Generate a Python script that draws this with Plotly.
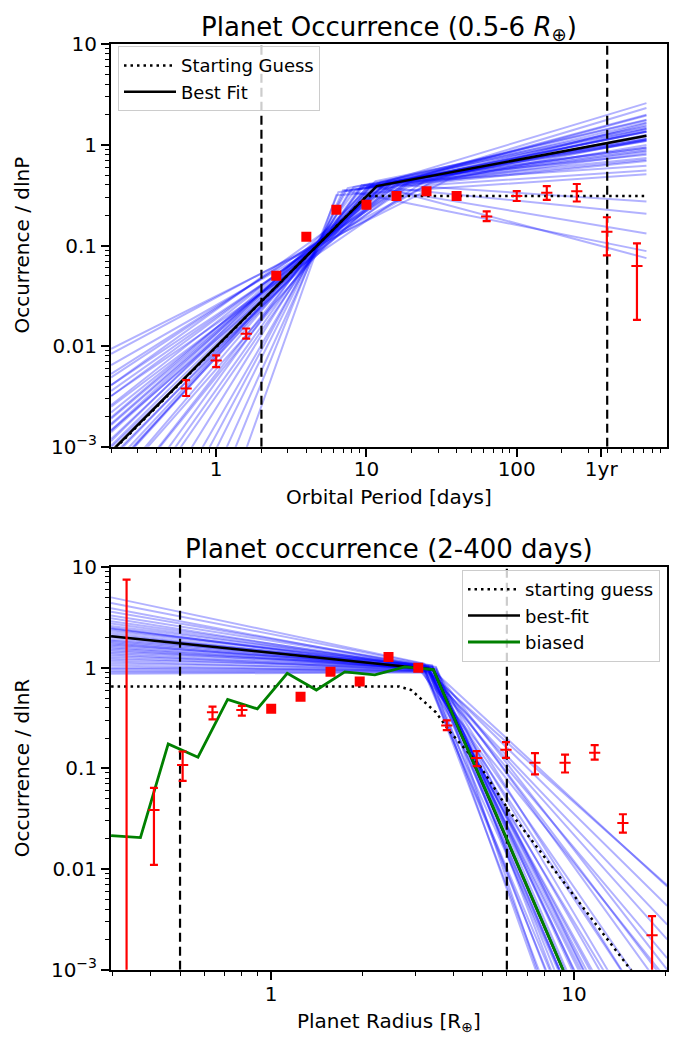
import plotly.graph_objects as go

# ---------------- TOP PANEL DATA (occurrence vs orbital period) ----------------
period_bins = [0.631, 1.0, 1.585, 2.51, 3.98, 6.31, 10.0, 15.85, 25.1, 39.8,
               63.1, 100.0, 158.5, 251.0, 398.0, 631.0]
occ_period = [0.0038, 0.0072, 0.0133, 0.050, 0.122, 0.227, 0.254, 0.310, 0.347, 0.310,
              0.194, 0.310, 0.335, 0.347, 0.137, 0.0625]
occ_period_hi = [0.0046, 0.0081, 0.0150, 0.0515, 0.125, 0.233, 0.261, 0.318, 0.356, 0.318,
                 0.219, 0.347, 0.389, 0.409, 0.191, 0.105]
occ_period_lo = [0.0032, 0.0062, 0.0119, 0.0485, 0.119, 0.221, 0.247, 0.302, 0.338, 0.302,
                 0.175, 0.277, 0.284, 0.274, 0.080, 0.0183]

guess_period = [0.2, 10.0, 730.0]
guess_occ_p = [0.00088, 0.31, 0.31]
fit_period = [0.2, 11.7, 730.0]
fit_occ_p = [0.0009, 0.39, 1.23]
period_limits = [2.0, 400.0]

# posterior sample broken power laws: value at P=0.2, break period, value at break, value at P=730
samp_p_ends = [0.2, 730.0]
samp_p_left = [0.0094, 0.0084, 0.0065, 0.0032, 0.0053, 0.0041, 0.0025, 0.0036, 0.0049, 0.0032,
               0.00146, 0.0022, 0.0041, 0.0019, 0.00099, 0.00165, 0.0017, 0.0026, 0.0014, 0.00079,
               0.0012, 0.00196, 0.00103, 0.00059, 0.00088, 0.00146, 0.00075, 0.000385, 0.00064, 0.00114,
               0.00055, 0.00025, 0.0004, 0.00056, 0.00025, 0.0001, 0.000126, 0.00016, 0.000051, 0.000026,
               0.0000145, 0.0000077, 0.0000029, 0.00000085, 0.00000016]
samp_p_break = [34.6, 26.4, 25.2, 24.2, 18.7, 18.7, 21.0, 18.3, 17.6, 17.6,
                15.6, 15.5, 15.5, 14.7, 14.2, 13.6, 13.8, 13.6, 13.3, 13.8,
                12.6, 13.5, 12.0, 12.4, 11.8, 11.6, 11.8, 11.5, 11.1, 11.5,
                10.6, 10.7, 10.5, 10.1, 9.7, 9.2, 9.3, 8.4, 8.2, 7.8,
                7.5, 7.2, 7.0, 6.5, 6.3]
samp_p_breakval = [0.447, 0.417, 0.398, 0.437, 0.398, 0.380, 0.468, 0.417, 0.398, 0.437,
                   0.398, 0.407, 0.437, 0.417, 0.380, 0.398, 0.427, 0.372, 0.407, 0.437,
                   0.398, 0.417, 0.389, 0.427, 0.398, 0.380, 0.417, 0.372, 0.398, 0.437,
                   0.380, 0.398, 0.407, 0.380, 0.398, 0.380, 0.398, 0.355, 0.380, 0.355,
                   0.372, 0.355, 0.355, 0.339, 0.316]
samp_p_right = [0.82, 1.13, 0.557, 1.44, 1.0, 1.64, 0.80, 1.26, 0.274, 2.33,
                0.86, 1.57, 1.14, 1.35, 0.69, 1.96, 0.94, 1.23, 1.11, 2.6,
                1.35, 0.62, 1.09, 1.78, 0.91, 1.99, 1.44, 0.132, 0.74, 1.52,
                1.67, 1.14, 0.075, 1.37, 0.94, 1.76, 0.207, 1.36, 1.17, 0.88,
                1.47, 0.71, 0.088, 1.10, 0.51]

# ---------------- BOTTOM PANEL DATA (occurrence vs planet radius) ----------------
radius_bins = [0.333, 0.41, 0.51, 0.64, 0.8, 1.0, 1.25, 1.57, 1.96, 2.44,
               3.06, 3.8, 4.77, 5.96, 7.43, 9.34, 11.7, 14.5, 18.1]
occ_radius = [0.0003, 0.0385, 0.108, 0.36, 0.38, 0.39, 0.515, 0.914, 0.73, 1.28,
              1.0, 0.267, 0.127, 0.153, 0.114, 0.114, 0.143, 0.0286, 0.0022]
occ_radius_hi = [7.5, 0.064, 0.147, 0.41, 0.418, 0.41, 0.53, 0.94, 0.75, 1.32,
                 1.03, 0.30, 0.148, 0.182, 0.142, 0.137, 0.17, 0.035, 0.0034]
occ_radius_lo = [0.00001, 0.011, 0.075, 0.306, 0.334, 0.37, 0.50, 0.89, 0.71, 1.24,
                 0.97, 0.24, 0.105, 0.127, 0.087, 0.091, 0.122, 0.023, 0.0008]

biased_radius = [0.296, 0.37, 0.457, 0.573, 0.718, 0.9, 1.13, 1.41, 1.75, 2.2,
                 2.76, 3.43, 4.3, 5.4, 6.75, 8.5, 10.6]
biased_occ = [0.0215, 0.0205, 0.175, 0.129, 0.485, 0.39, 0.88, 0.6, 0.91, 0.85,
              1.02, 0.96, 0.197, 0.0417, 0.0087, 0.00174, 0.00037]

guess_radius = [0.296, 2.65, 2.9, 3.1, 3.5, 3.9, 4.9, 6.1, 15.5]
guess_occ_r = [0.65, 0.65, 0.6, 0.5, 0.36, 0.23, 0.105, 0.038, 0.00097]
fit_radius = [0.296, 3.43, 10.6]
fit_occ_r = [2.05, 0.96, 0.00037]
radius_limits = [0.5, 6.0]

samp_r_ends = [0.296, 20.3]
samp_r_left = [5.0, 4.4, 3.9, 3.6, 3.3, 3.1, 2.9, 2.75, 2.6, 2.5,
               2.4, 2.3, 2.2, 2.1, 2.05, 2.0, 1.9, 1.85, 1.8, 1.75,
               1.7, 1.6, 1.55, 1.5, 1.45, 1.4, 1.35, 1.3, 1.25, 1.2,
               1.15, 1.1, 1.05, 1.0, 0.97, 0.93, 0.9, 0.87, 2.45, 1.65]
samp_r_break = [3.2, 3.4, 3.3, 3.1, 3.5, 3.3, 3.2, 3.4, 3.3, 3.2,
                3.4, 3.1, 3.3, 3.5, 3.3, 3.2, 3.4, 3.3, 3.2, 3.4,
                3.3, 3.5, 3.1, 3.3, 3.2, 3.4, 3.3, 3.2, 3.4, 3.3,
                3.1, 3.5, 3.3, 3.2, 3.4, 3.3, 3.2, 3.3, 3.3, 3.4]
samp_r_breakval = [1.10, 1.05, 1.00, 1.08, 1.02, 0.98, 1.05, 1.00, 1.04, 0.96,
                   1.02, 1.06, 0.97, 1.00, 1.03, 0.95, 1.05, 1.00, 0.98, 0.94,
                   1.02, 0.95, 1.00, 0.97, 1.04, 0.98, 0.93, 1.00, 0.96, 0.99,
                   0.94, 0.97, 0.92, 0.95, 0.93, 0.92, 0.90, 0.90, 1.00, 1.01]
samp_r_right = [7.2e-4, 1.0e-5, 3.3e-6, 2.8e-3, 9e-7, 2.0e-5, 4.4e-5, 1.7e-6, 6.7e-3, 3.7e-6,
                2.9e-6, 2.0e-4, 2.2e-7, 2.0e-5, 3.4e-6, 1.3e-3, 8.7e-6, 2.9e-5, 1.05e-6, 5.5e-4,
                1.2e-5, 1.5e-7, 8.9e-5, 7.6e-7, 4.3e-3, 4.8e-6, 6.6e-5, 4.3e-7, 1.9e-4, 1.7e-5,
                7.9e-4, 4.9e-6, 3.8e-5, 3.0e-4, 2.2e-5, 2.0e-3, 1.7e-6, 6.9e-3, 1.0e-4, 1.0e-3]

occ_limits = [1e-3, 10.0]

# ---------------- STYLE ----------------
FONT = "DejaVu Sans"
W, H = 697, 1053
BLUE = "rgba(0,0,255,0.3)"
RED = "red"
GREEN = "#008000"

fig = go.Figure()


def err_trace(x, y, hi, lo, xa, ya):
    symbols = ["square" if (h - l) / v < 0.15 else "line-ew" for v, h, l in zip(y, hi, lo)]
    return go.Scatter(
        x=x, y=y, mode="markers", xaxis=xa, yaxis=ya, showlegend=False, hoverinfo="skip",
        marker=dict(symbol=symbols, size=8, color=RED, line=dict(color=RED, width=2)),
        error_y=dict(type="data", symmetric=False,
                     array=[h - v for v, h in zip(y, hi)],
                     arrayminus=[v - l for v, l in zip(y, lo)],
                     color=RED, thickness=2.2, width=4),
    )


# ---- top panel ----
for yl, pb, yb, yr in zip(samp_p_left, samp_p_break, samp_p_breakval, samp_p_right):
    fig.add_trace(go.Scatter(x=[samp_p_ends[0], pb, samp_p_ends[1]], y=[yl, yb, yr],
                             mode="lines", line=dict(color=BLUE, width=2),
                             xaxis="x", yaxis="y", showlegend=False, hoverinfo="skip"))
for p in period_limits:
    fig.add_trace(go.Scatter(x=[p, p], y=occ_limits, mode="lines",
                             line=dict(color="black", width=2.2, dash="9px,5px"),
                             xaxis="x", yaxis="y", showlegend=False, hoverinfo="skip"))
fig.add_trace(go.Scatter(x=guess_period, y=guess_occ_p, mode="lines", name="Starting Guess",
                         line=dict(color="black", width=2.5, dash="2.5px,4px"),
                         xaxis="x", yaxis="y", legend="legend"))
fig.add_trace(go.Scatter(x=fit_period, y=fit_occ_p, mode="lines", name="Best Fit",
                         line=dict(color="black", width=2.5),
                         xaxis="x", yaxis="y", legend="legend"))
fig.add_trace(err_trace(period_bins, occ_period, occ_period_hi, occ_period_lo, "x", "y"))

# ---- bottom panel ----
for yl, rb, yb, yr in zip(samp_r_left, samp_r_break, samp_r_breakval, samp_r_right):
    fig.add_trace(go.Scatter(x=[samp_r_ends[0], rb, samp_r_ends[1]], y=[yl, yb, yr],
                             mode="lines", line=dict(color=BLUE, width=2),
                             xaxis="x2", yaxis="y2", showlegend=False, hoverinfo="skip"))
for r in radius_limits:
    fig.add_trace(go.Scatter(x=[r, r], y=occ_limits, mode="lines",
                             line=dict(color="black", width=2.2, dash="9px,5px"),
                             xaxis="x2", yaxis="y2", showlegend=False, hoverinfo="skip"))
fig.add_trace(go.Scatter(x=guess_radius, y=guess_occ_r, mode="lines", name="starting guess",
                         line=dict(color="black", width=2.5, dash="2.5px,4px"),
                         xaxis="x2", yaxis="y2", legend="legend2"))
fig.add_trace(go.Scatter(x=fit_radius, y=fit_occ_r, mode="lines", name="best-fit",
                         line=dict(color="black", width=2.5),
                         xaxis="x2", yaxis="y2", legend="legend2"))
fig.add_trace(go.Scatter(x=biased_radius, y=biased_occ, mode="lines", name="biased",
                         line=dict(color=GREEN, width=2.8),
                         xaxis="x2", yaxis="y2", legend="legend2"))
fig.add_trace(err_trace(radius_bins, occ_radius, occ_radius_hi, occ_radius_lo, "x2", "y2"))


# ---------------- AXES ----------------
def minor_vals(lo_exp, hi_exp):
    return [k * 10 ** e for e in range(lo_exp, hi_exp + 1) for k in range(2, 10)]


xdom = [111 / W, 667 / W]
top_dom = [1 - 445 / H, 1 - 33 / H]
bot_dom = [1 - 980 / H, 1 - 568 / H]
tickfont = dict(family=FONT, size=20, color="black")
common = dict(type="log", showline=True, mirror=True, linecolor="black", linewidth=2,
              ticks="outside", ticklen=8, tickwidth=1.6, tickcolor="black",
              showgrid=False, zeroline=False, tickfont=tickfont)

yt = dict(tickvals=[1e-3, 1e-2, 1e-1, 1, 10], ticktext=["10<sup>−3</sup>", "0.01", "0.1", "1", "10"],
          minor=dict(tickvals=minor_vals(-3, 0), ticks="outside", ticklen=4, tickwidth=1.2,
                     tickcolor="black", showgrid=False))

fig.update_layout(
    xaxis=dict(**common, domain=xdom, anchor="y", range=[-0.7, 3.0], ticklabelstandoff=-5,
               tickvals=[1, 10, 100, 365], ticktext=["1", "10", "100", "1yr"],
               minor=dict(tickvals=minor_vals(-1, 2), ticks="outside", ticklen=4, tickwidth=1.2,
                          tickcolor="black", showgrid=False)),
    yaxis=dict(**common, **yt, domain=top_dom, anchor="x", range=[-3, 1]),
    xaxis2=dict(**common, domain=xdom, anchor="y2", range=[-0.529, 1.307], ticklabelstandoff=-3,
                tickvals=[1, 10], ticktext=["1", "10"],
                minor=dict(tickvals=minor_vals(-1, 1), ticks="outside", ticklen=4, tickwidth=1.2,
                           tickcolor="black", showgrid=False)),
    yaxis2=dict(**common, **yt, domain=bot_dom, anchor="x2", range=[-3, 1]),
)

legend_style = dict(bgcolor="rgba(255,255,255,0.8)", bordercolor="#cccccc", borderwidth=1,
                    font=dict(family=FONT, size=18, color="black"), tracegroupgap=0,
                    itemwidth=52)
fig.update_layout(
    legend=dict(**legend_style, x=118 / W, y=1 - 35 / H, xanchor="left", yanchor="top"),
    legend2=dict(**legend_style, x=660 / W, y=1 - 571 / H, xanchor="right", yanchor="top"),
)

ann_font = dict(family=FONT, size=20, color="black")
title_font = dict(family=FONT, size=26, color="black")
xc = (111 + 667) / 2 / W
annotations = [
    dict(text="Planet Occurrence (0.5-6 <i>R</i><sub>⊕</sub>)", x=xc, y=1 - 17 / H, font=title_font),
    dict(text="Planet occurrence (2-400 days)", x=xc, y=1 - 550 / H, font=title_font),
    dict(text="Orbital Period [days]", x=xc, y=1 - 496 / H, font=ann_font),
    dict(text="Planet Radius [R<sub>⊕</sub>]", x=xc, y=1 - 1034 / H, font=ann_font),
    dict(text="Occurrence / dlnP", x=22 / W, y=1 - 239 / H, font=ann_font, textangle=-90),
    dict(text="Occurrence / dlnR", x=22 / W, y=1 - 774 / H, font=ann_font, textangle=-90),
]
for a in annotations:
    a.update(xref="paper", yref="paper", showarrow=False, xanchor="center", yanchor="middle")

fig.update_layout(
    annotations=annotations,
    width=W, height=H, autosize=False,
    margin=dict(l=0, r=0, t=0, b=0),
    paper_bgcolor="white", plot_bgcolor="white",
    font=dict(family=FONT, color="black"),
)

fig.write_html("out.html")
